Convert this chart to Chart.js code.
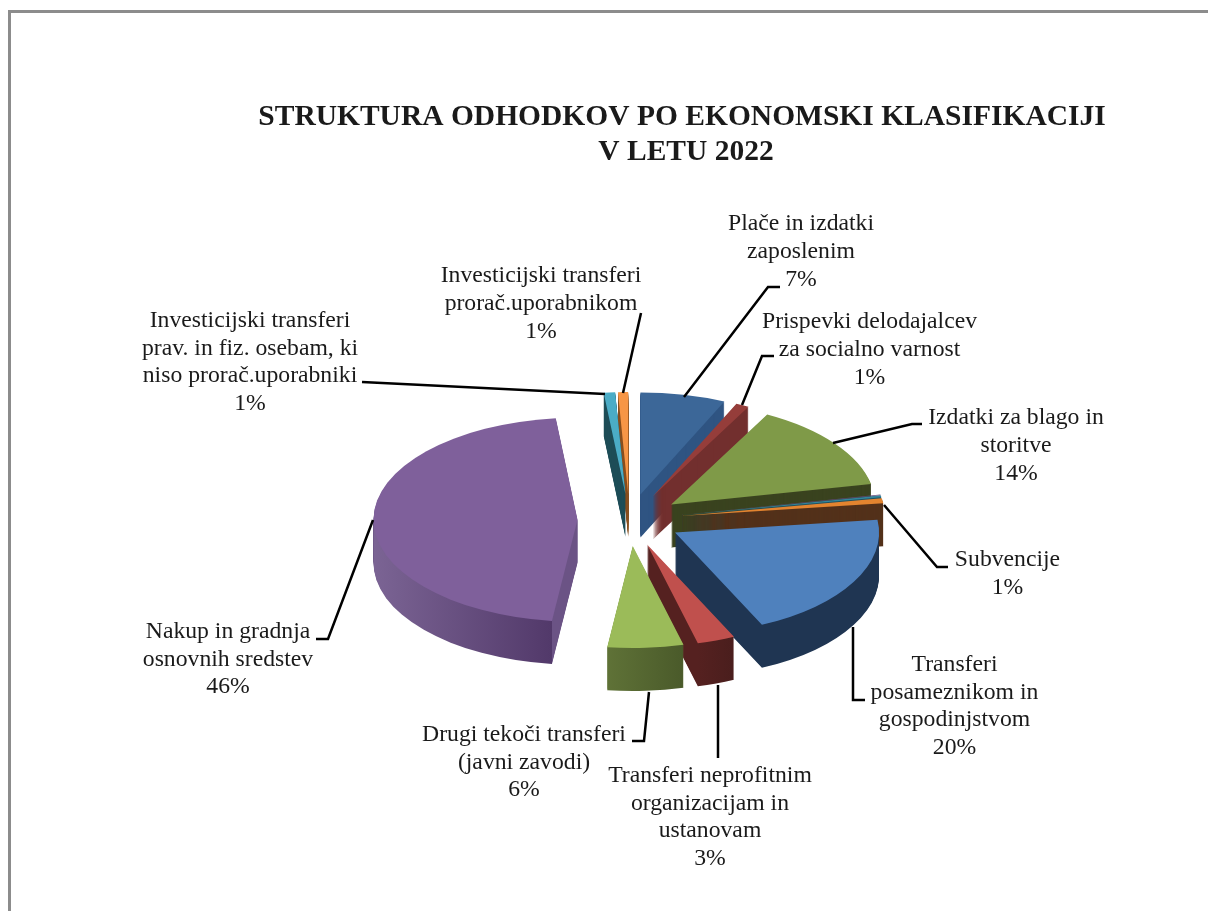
<!DOCTYPE html>
<html>
<head>
<meta charset="utf-8">
<title>Struktura odhodkov</title>
<script src="https://cdn.jsdelivr.net/npm/chart.js@4/dist/chart.umd.min.js"></script>
<style>
  html, body { margin: 0; padding: 0; background: #fff; overflow: hidden; }
  #frame { position: absolute; left: 8px; top: 10px; width: 1300px; height: 1000px; border: 3px solid #8c8c8c; }
  canvas { position: absolute; left: 0; top: 0; }
</style>
</head>
<body>
<div id="frame"></div>
<canvas id="myChart" width="1208" height="911"></canvas>
<script>
// Data
let titleLines = ['STRUKTURA ODHODKOV PO EKONOMSKI KLASIFIKACIJI', 'V LETU 2022'];
let categories = [
  'Plače in izdatki\nzaposlenim',
  'Prispevki delodajalcev\nza socialno varnost',
  'Izdatki za blago in\nstoritve',
  '',
  '',
  'Subvencije',
  'Transferi\nposameznikom in\ngospodinjstvom',
  'Transferi neprofitnim\norganizacijam in\nustanovam',
  'Drugi tekoči transferi\n(javni zavodi)',
  'Nakup in gradnja\nosnovnih sredstev',
  'Investicijski transferi\nprav. in fiz. osebam, ki\nniso prorač.uporabniki',
  'Investicijski transferi\nprorač.uporabnikom'
];
let percentLabels = ['7%', '1%', '14%', '', '', '1%', '20%', '3%', '6%', '46%', '1%', '1%'];
let values = [6.75, 1.05, 14.0, 0.1, 0.3, 0.8, 20.0, 3.0, 6.0, 46.3, 0.9, 0.8];

// Colors
let topColors = ['#3C6798', '#953D3A', '#7F9A48', '#5F497A', '#31859C', '#E3842F', '#4F81BD', '#C0504D', '#9BBB59', '#7F609B', '#4BACC6', '#F79646'];
let cutColors = ['#2F5482', '#722F2E', '#3A431F', '#3A2A4C', '#1F5260', '#53311A', '#1F3552', '#552120', '#5A6C34', '#6B5385', '#1F4E58', '#8A5020'];
let wallLeft = ['#2F5482', '#722F2E', '#3A431F', '#3A2A4C', '#1F5260', '#53311A', '#1F3552', '#552120', '#5F7237', '#7B6494', '#1F4E58', '#8A5020'];
let wallRight = ['#2F5482', '#722F2E', '#3A431F', '#3A2A4C', '#1F5260', '#53311A', '#1F3552', '#4A1E1D', '#4A5A2A', '#52396A', '#1F4E58', '#8A5020'];

// Pie look
let centerX = 629.5;
let centerY = 520;
let radius = 204;
let tilt = 0.5;
let depth = 43;
let explode = 52;

// Label centre x and y of the first line, one per slice
let labelPos = [
  [801, 224], [869.5, 322], [1016, 418], null, null, [1007.5, 560],
  [954.5, 665], [710, 776], [524, 735], [228, 632], [250, 321], [541, 276]
];
let lineHeight = [28, 28, 28, 0, 0, 28, 27.5, 27.5, 27.5, 27.5, 27.5, 28];
let leaders = [
  [[684, 397], [768, 287], [780, 287]],
  [[742, 405], [762, 356], [774, 356]],
  [[833, 443], [912, 424], [922, 424]],
  null, null,
  [[884, 505], [937, 567], [948, 567]],
  [[853, 627], [853, 700], [865, 700]],
  [[718, 685], [718, 758]],
  [[649, 692], [644, 741], [632, 741]],
  [[373, 520], [328, 639], [316, 639]],
  [[362, 382], [605, 394]],
  [[641, 313], [623, 393]]
];

function wallFill(ctx, arc, i) {
  // the outer wall only shows on the lower half, the rest is the cut face
  let from = Math.max(arc.startAngle, 0);
  let to = Math.min(arc.endAngle, Math.PI);
  if (to <= from) {
    return cutColors[i];
  }
  let xs = [arc.x + radius * Math.cos(from), arc.x + radius * Math.cos(to)];
  let x1 = Math.min(...xs);
  let x2 = Math.max(...xs);
  let left = arc.x - radius - 1;
  let width = radius * 2 + 2;
  let g = ctx.createLinearGradient(left, 0, left + width, 0);
  let s1 = (x1 - left) / width;
  let s2 = (x2 - left) / width;
  g.addColorStop(0, cutColors[i]);
  g.addColorStop(s1, cutColors[i]);
  g.addColorStop(s1, wallLeft[i]);
  g.addColorStop(s2, wallRight[i]);
  g.addColorStop(s2, cutColors[i]);
  g.addColorStop(1, cutColors[i]);
  return g;
}

function drawSlice(ctx, arc, i, drop, fill) {
  let mid = (arc.startAngle + arc.endAngle) / 2;
  let baseOptions = arc.options;
  arc.options = Object.assign({}, baseOptions, {backgroundColor: fill});
  ctx.save();
  ctx.translate(0, centerY + drop);
  ctx.scale(1, tilt);
  ctx.translate(0, -centerY);
  ctx.translate(Math.cos(mid) * explode, Math.sin(mid) * explode);
  arc.draw(ctx);
  ctx.restore();
  arc.options = baseOptions;
}

let pie3d = {
  id: 'pie3d',
  beforeDatasetsDraw(chart) {
    let ctx = chart.ctx;
    let arcs = chart.getDatasetMeta(0).data;
    let order = arcs.map((a, i) => i);
    order.sort((a, b) => {
      let ma = (arcs[a].startAngle + arcs[a].endAngle) / 2;
      let mb = (arcs[b].startAngle + arcs[b].endAngle) / 2;
      return Math.sin(ma) - Math.sin(mb);
    });
    order.forEach(i => {
      let fill = wallFill(ctx, arcs[i], i);
      for (let d = depth; d > 0; d--) {
        drawSlice(ctx, arcs[i], i, d, fill);
      }
      drawSlice(ctx, arcs[i], i, 0, topColors[i]);
    });
    return false; // already drawn
  }
};

let labelsPlugin = {
  id: 'labelsPlugin',
  afterDraw(chart) {
    let ctx = chart.ctx;
    ctx.save();
    ctx.fillStyle = '#1a1a1a';
    ctx.textAlign = 'center';
    ctx.textBaseline = 'middle';
    ctx.font = 'bold 29.5px "Liberation Serif"';
    ctx.fillText(titleLines[0], 682, 117);
    ctx.fillText(titleLines[1], 686, 152);

    ctx.strokeStyle = '#000';
    ctx.lineWidth = 2.5;
    leaders.forEach(points => {
      if (!points) return;
      ctx.beginPath();
      points.forEach((p, n) => n === 0 ? ctx.moveTo(p[0], p[1]) : ctx.lineTo(p[0], p[1]));
      ctx.stroke();
    });

    ctx.font = '23.7px "Liberation Serif"';
    categories.forEach((name, i) => {
      if (!labelPos[i]) return;
      let lines = name.split('\n').concat(percentLabels[i]);
      lines.forEach((line, n) => {
        ctx.fillText(line, labelPos[i][0], labelPos[i][1] + n * lineHeight[i]);
      });
    });
    ctx.restore();
  }
};

let ctx = document.getElementById('myChart').getContext('2d');
let myChart = new Chart(ctx, {
  type: 'pie',
  data: {
    labels: categories,
    datasets: [{
      data: values,
      backgroundColor: topColors,
      borderWidth: 0
    }]
  },
  options: {
    responsive: false,
    animation: false,
    events: [],
    layout: {
      padding: {
        left: centerX - radius,
        right: 1208 - centerX - radius,
        top: centerY - radius,
        bottom: 911 - centerY - radius
      }
    },
    plugins: {
      legend: { display: false },
      tooltip: { enabled: false }
    }
  },
  plugins: [pie3d, labelsPlugin]
});
</script>
</body>
</html>
